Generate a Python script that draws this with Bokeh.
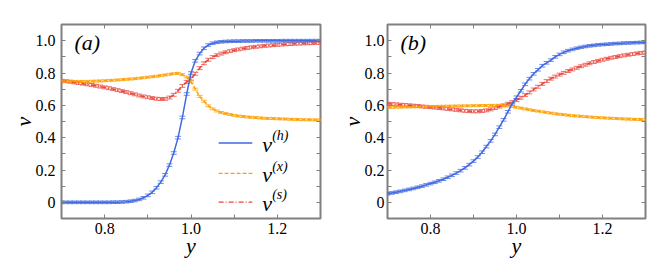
from bokeh.plotting import figure
from bokeh.models import (ColumnDataSource, Whisker, TeeHead, FixedTicker,
                          LinearAxis, Range1d, CustomJSTickFormatter)
from bokeh.layouts import row
from bokeh.embed import file_html
from bokeh.resources import INLINE
from bokeh.core.properties import value

# ---------------- data ----------------
y_vals = [0.70, 0.71, 0.72, 0.73, 0.74, 0.75, 0.76, 0.77, 0.78, 0.79,
          0.80, 0.81, 0.82, 0.83, 0.84, 0.85, 0.86, 0.87, 0.88, 0.89,
          0.90, 0.91, 0.92, 0.93, 0.94, 0.95, 0.96, 0.97, 0.98, 0.99,
          1.00, 1.01, 1.02, 1.03, 1.04, 1.05, 1.06, 1.07, 1.08, 1.09,
          1.10, 1.11, 1.12, 1.13, 1.14, 1.15, 1.16, 1.17, 1.18, 1.19,
          1.20, 1.21, 1.22, 1.23, 1.24, 1.25, 1.26, 1.27, 1.28, 1.29,
          1.30]

# panel (a)
nu_h_a = [0.000, 0.000, 0.000, 0.000, 0.000, 0.000, 0.000, 0.000, 0.000, 0.000,
          0.000, 0.000, 0.001, 0.001, 0.002, 0.004, 0.007, 0.011, 0.018, 0.028,
          0.043, 0.062, 0.090, 0.125, 0.170, 0.230, 0.305, 0.400, 0.525, 0.670,
          0.800, 0.875, 0.920, 0.953, 0.973, 0.984, 0.990, 0.993, 0.995, 0.996,
          0.997, 0.997, 0.998, 0.998, 0.998, 0.999, 0.999, 0.999, 0.999, 0.999,
          0.999, 1.000, 1.000, 1.000, 1.000, 1.000, 1.000, 1.000, 1.000, 1.000,
          1.000]
nu_x_a = [0.750, 0.749, 0.749, 0.748, 0.748, 0.748, 0.748, 0.749, 0.750, 0.751,
          0.752, 0.754, 0.755, 0.757, 0.759, 0.761, 0.763, 0.765, 0.768, 0.771,
          0.774, 0.777, 0.780, 0.784, 0.788, 0.792, 0.796, 0.798, 0.790, 0.775,
          0.745, 0.700, 0.655, 0.625, 0.597, 0.578, 0.565, 0.556, 0.549, 0.543,
          0.538, 0.534, 0.531, 0.528, 0.526, 0.524, 0.522, 0.520, 0.519, 0.518,
          0.517, 0.516, 0.515, 0.514, 0.513, 0.512, 0.511, 0.511, 0.510, 0.510,
          0.509]
nu_s_a = [0.752, 0.749, 0.746, 0.742, 0.738, 0.734, 0.730, 0.726, 0.721, 0.716,
          0.711, 0.706, 0.700, 0.694, 0.688, 0.682, 0.675, 0.668, 0.661, 0.655,
          0.650, 0.645, 0.641, 0.639, 0.640, 0.648, 0.665, 0.690, 0.720, 0.745,
          0.765, 0.795, 0.830, 0.860, 0.882, 0.898, 0.910, 0.920, 0.928, 0.935,
          0.941, 0.946, 0.951, 0.955, 0.959, 0.962, 0.965, 0.968, 0.970, 0.972,
          0.974, 0.976, 0.978, 0.979, 0.981, 0.982, 0.983, 0.984, 0.985, 0.986,
          0.987]

# panel (b)
nu_h_b = [0.053, 0.058, 0.063, 0.068, 0.074, 0.080, 0.086, 0.093, 0.100, 0.108,
          0.116, 0.124, 0.133, 0.143, 0.155, 0.167, 0.181, 0.196, 0.213, 0.233,
          0.255, 0.280, 0.310, 0.345, 0.380, 0.420, 0.465, 0.510, 0.560, 0.610,
          0.650, 0.690, 0.730, 0.765, 0.795, 0.820, 0.845, 0.863, 0.880, 0.900,
          0.915, 0.928, 0.938, 0.946, 0.953, 0.959, 0.964, 0.968, 0.971, 0.974,
          0.976, 0.978, 0.980, 0.982, 0.983, 0.985, 0.986, 0.987, 0.988, 0.989,
          0.990]
nu_x_b = [0.588, 0.588, 0.589, 0.589, 0.590, 0.590, 0.591, 0.591, 0.592, 0.592,
          0.593, 0.593, 0.594, 0.594, 0.595, 0.595, 0.596, 0.596, 0.597, 0.597,
          0.598, 0.598, 0.599, 0.599, 0.600, 0.600, 0.600, 0.599, 0.597, 0.593,
          0.588, 0.583, 0.578, 0.573, 0.568, 0.564, 0.560, 0.556, 0.552, 0.548,
          0.545, 0.542, 0.539, 0.536, 0.534, 0.532, 0.530, 0.528, 0.526, 0.524,
          0.523, 0.521, 0.520, 0.519, 0.517, 0.516, 0.515, 0.514, 0.513, 0.512,
          0.511]
nu_s_b = [0.610, 0.608, 0.606, 0.604, 0.602, 0.600, 0.598, 0.596, 0.593, 0.591,
          0.589, 0.586, 0.584, 0.581, 0.578, 0.575, 0.572, 0.569, 0.566, 0.564,
          0.563, 0.563, 0.565, 0.569, 0.575, 0.583, 0.592, 0.600, 0.610, 0.620,
          0.632, 0.647, 0.663, 0.680, 0.698, 0.715, 0.733, 0.750, 0.765, 0.778,
          0.790, 0.801, 0.812, 0.822, 0.832, 0.842, 0.851, 0.860, 0.868, 0.875,
          0.882, 0.888, 0.894, 0.899, 0.904, 0.909, 0.913, 0.917, 0.921, 0.924,
          0.927]

err_h = 0.008
err_x = 0.006
err_s = 0.009

x_major = [0.8, 1.0, 1.2]
x_minor = [0.7, 0.9, 1.1, 1.3]
v_major = [0.0, 0.2, 0.4, 0.6, 0.8, 1.0]
v_minor = [-0.1, 0.1, 0.3, 0.5, 0.7, 0.9, 1.1]

legend_labels = ["(h)", "(x)", "(s)"]
panel_labels = ["(a)", "(b)"]

# ---------------- style ----------------
FONT = "Times New Roman"
BLUE = "#4169e1"
ORANGE = "#ffa000"
RED = "#e8453c"
FRAME = "#808080"

LABEL_FMT = "return Math.abs(tick) < 1e-9 ? '0' : tick.toFixed(1);"


def style_axis(ax, ticker, show_labels, standoff=5):
    ax.ticker = ticker
    ax.axis_line_color = None
    ax.major_tick_in = 4
    ax.major_tick_out = 0
    ax.minor_tick_in = 4
    ax.minor_tick_out = 0
    ax.major_tick_line_color = FRAME
    ax.minor_tick_line_color = FRAME
    ax.major_tick_line_width = 1
    ax.minor_tick_line_width = 1
    if show_labels:
        ax.formatter = CustomJSTickFormatter(code=LABEL_FMT)
        ax.major_label_text_font = FONT
        ax.major_label_text_font_size = "16px"
        ax.major_label_text_color = "black"
        ax.major_label_standoff = standoff
    else:
        ax.formatter = CustomJSTickFormatter(code="return '';")
        ax.major_label_standoff = 0


def add_series(p, yv, vals, err, color, dash):
    src = ColumnDataSource(dict(x=yv, v=vals,
                                lo=[a - err for a in vals],
                                hi=[a + err for a in vals]))
    p.line("x", "v", source=src, line_color=color, line_width=1.5,
           line_dash=dash)
    w = Whisker(source=src, base="x", upper="hi", lower="lo",
                line_color=color, line_alpha=0.75, line_width=1,
                upper_head=TeeHead(size=6, line_color=color, line_alpha=0.75, line_width=1),
                lower_head=TeeHead(size=6, line_color=color, line_alpha=0.75, line_width=1))
    p.add_layout(w)


def make_panel(label, h, xx, s, width, left, right, ystand, legend):
    p = figure(width=width, height=269,
               x_range=Range1d(0.7, 1.3), y_range=Range1d(-0.1, 1.1),
               output_backend="svg", toolbar_location=None,
               min_border_left=left, min_border_right=right,
               min_border_top=24, min_border_bottom=51)
    p.grid.visible = False
    p.outline_line_color = FRAME
    p.outline_line_width = 2
    p.background_fill_color = "white"
    p.border_fill_color = "white"

    style_axis(p.xaxis[0], FixedTicker(ticks=x_major, minor_ticks=x_minor), True, 4)
    style_axis(p.yaxis[0], FixedTicker(ticks=v_major, minor_ticks=v_minor), True, ystand)
    p.xaxis[0].axis_label = "y"
    p.yaxis[0].axis_label = "ν"
    for ax in (p.xaxis[0], p.yaxis[0]):
        ax.axis_label_text_font = FONT
        ax.axis_label_text_font_size = "22px"
        ax.axis_label_text_font_style = "italic"
        ax.axis_label_text_color = "black"
    p.xaxis[0].axis_label_standoff = -4
    p.yaxis[0].axis_label_standoff = -3

    top = LinearAxis()
    style_axis(top, FixedTicker(ticks=x_major, minor_ticks=x_minor), False)
    p.add_layout(top, "above")
    rgt = LinearAxis()
    style_axis(rgt, FixedTicker(ticks=v_major, minor_ticks=v_minor), False)
    p.add_layout(rgt, "right")

    add_series(p, y_vals, s, err_s, RED, "5 2 1 2")
    add_series(p, y_vals, xx, err_x, ORANGE, "4 2")
    add_series(p, y_vals, h, err_h, BLUE, "solid")

    p.text(x=[0.730], y=[0.99], text=[label], text_font=value(FONT),
           text_font_size="22px", text_font_style="italic",
           text_baseline="middle", text_align="left", text_color="black")

    if legend:
        ly = [0.367, 0.179, 0.001]
        cols = [BLUE, ORANGE, RED]
        dashes = ["solid", "4 2", "5 2 1 2"]
        for yy, c, d in zip(ly, cols, dashes):
            p.line(x=[1.064, 1.142], y=[yy, yy], line_color=c,
                   line_width=1.4, line_dash=d)
        p.text(x=[1.165] * 3, y=[a - 0.008 for a in ly], text=["ν"] * 3,
               text_font=value(FONT), text_font_size="22px",
               text_font_style="italic", text_baseline="middle",
               text_align="left", text_color="black")
        p.text(x=[1.188] * 3, y=[a + 0.045 for a in ly], text=legend_labels,
               text_font=value(FONT), text_font_size="14px",
               text_font_style="italic", text_baseline="middle",
               text_align="left", text_color="black")
    return p


pa = make_panel(panel_labels[0], nu_h_a, nu_x_a, nu_s_a, 324, 61, 4, 6, True)
pb = make_panel(panel_labels[1], nu_h_b, nu_x_b, nu_s_b, 340, 63, 19, 3, False)

layout = row(pa, pb)
open("out.html", "w").write(file_html(layout, INLINE))
